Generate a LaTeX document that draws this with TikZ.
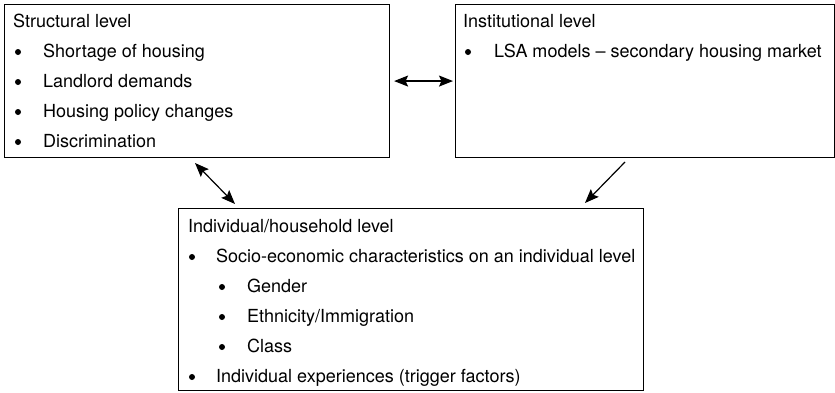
\documentclass[tikz,border=0pt]{standalone}
\usepackage{fontspec}
\setmainfont{TeX Gyre Heros}
\usetikzlibrary{arrows.meta}
\begin{document}
\begin{tikzpicture}[x=1pt,y=-1pt,
  box/.style={draw, line width=1.1pt, anchor=north west, inner sep=0pt},
  txt/.style={anchor=base west, inner sep=0pt, font=\fontsize{18}{20}\selectfont},
  dot/.style={circle, fill, inner sep=0pt, minimum size=6pt},
  tip/.tip={Stealth[length=14pt,width=11pt,inset=2.5pt]},
  arr/.style={line width=1.2pt, -tip},
  darr/.style={line width=1.2pt, tip-tip}
]
\useasboundingbox (0,0) rectangle (835,392);

% boxes
\node[box, minimum width=385pt, minimum height=153pt] (s) at (4,4) {};
\node[box, minimum width=379pt, minimum height=153pt] (i) at (455,4) {};
\node[box, minimum width=465pt, minimum height=182pt] (h) at (178,208) {};

% structural level
\node[txt] (s0) at (13,27) {Structural level};
\node[dot] (sb1) at (18,52) {}; \node[txt] (s1) at (43,57) {Shortage of housing};
\node[dot] (sb2) at (18,82) {}; \node[txt] (s2) at (43,87) {Landlord demands};
\node[dot] (sb3) at (18,112) {}; \node[txt] (s3) at (43,117) {Housing policy changes};
\node[dot] (sb4) at (18,142) {}; \node[txt] (s4) at (43,147) {Discrimination};

% institutional level
\node[txt] (i0) at (463,27) {Institutional level};
\node[dot] (ib1) at (468,52) {}; \node[txt] (i1) at (494,57) {LSA models – secondary housing market};

% individual/household level
\node[txt] (h0) at (188,232) {Individual/household level};
\node[dot] (hb1) at (192,257) {}; \node[txt] (h1) at (216,262) {Socio-economic characteristics on an individual level};
\node[dot] (hb2) at (222,287) {}; \node[txt] (h2) at (247,292) {Gender};
\node[dot] (hb3) at (222,317) {}; \node[txt] (h3) at (247,322) {Ethnicity/Immigration};
\node[dot] (hb4) at (222,347) {}; \node[txt] (h4) at (247,352) {Class};
\node[dot] (hb5) at (192,377) {}; \node[txt] (h5) at (216,382) {Individual experiences (trigger factors)};

% connectors
\draw[darr, shorten <=4pt, shorten >=2pt] (s.east) -- (i.west);
\coordinate (a1) at (195,163);
\coordinate (a2) at (235,204);
\draw[darr] (a1) -- (a2);
\coordinate (b1) at (625,162);
\coordinate (b2) at (585,203);
\draw[arr] (b1) -- (b2);
\end{tikzpicture}
\end{document}
